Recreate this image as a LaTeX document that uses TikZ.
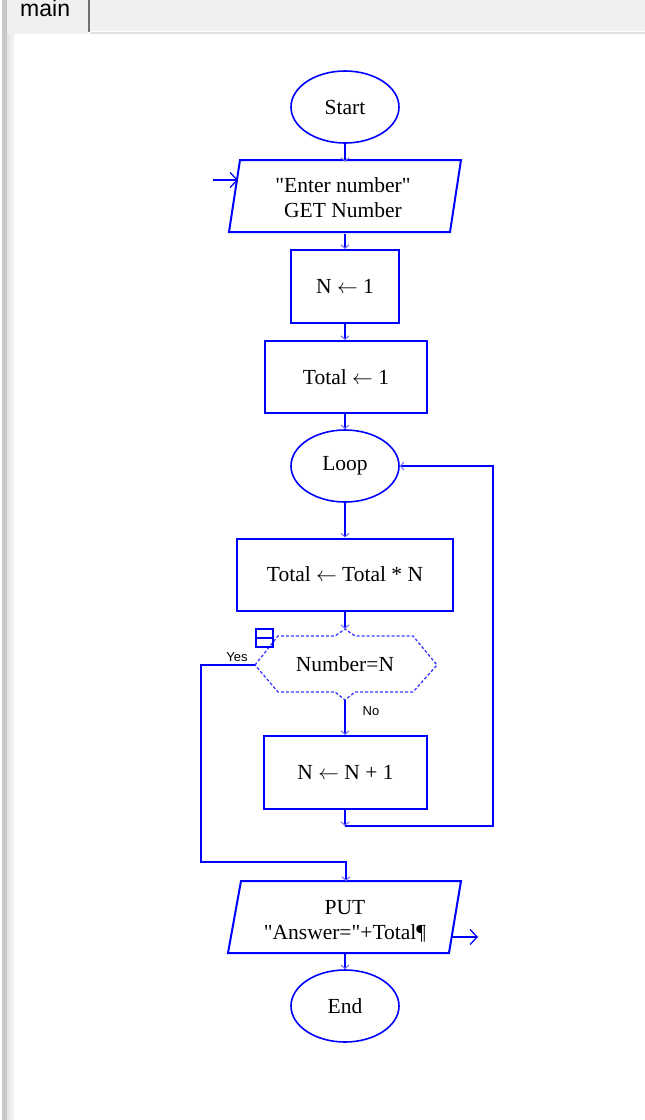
\documentclass[tikz,border=0pt]{standalone}
\usepackage{fontspec}
\setmainfont{Liberation Serif}[Ligatures=TeXOff]
\newfontfamily\uifont{Liberation Sans}
\usetikzlibrary{arrows.meta,shapes.geometric}
\definecolor{flowblue}{HTML}{0000FF}
\definecolor{tipblue}{HTML}{6A6AFF}
\definecolor{dashblue}{HTML}{3A3AFF}
\definecolor{barA}{HTML}{C8C8C8}
\definecolor{barB}{HTML}{E6E6E6}
\definecolor{panel}{HTML}{F0F0F0}
\definecolor{rule}{HTML}{E0E0E0}
\definecolor{tabedge}{HTML}{707070}
\begin{document}
\begin{tikzpicture}[x=1pt,y=-1pt,
  txt/.style={font=\fontsize{21.5}{25}\selectfont, align=center, inner sep=0},
  procbox/.style={txt, draw=flowblue, line width=2pt, rectangle},
  term/.style={txt, draw=flowblue, line width=1.6pt, ellipse,
    minimum width=108pt, minimum height=72pt},
  shapeline/.style={draw=flowblue, line width=2pt, line join=miter},
  flow/.style={draw=flowblue, line width=2pt,
    -{Straight Barb[length=3.5pt,width=8pt,line width=1pt,color=tipblue]}},
  ioflow/.style={draw=flowblue, line width=1.6pt,
    -{Straight Barb[length=7pt,width=15pt,line width=1.3pt]}},
  lbl/.style={font=\uifont\fontsize{13}{13}\selectfont, inner sep=0}]
\useasboundingbox (0,0) rectangle (645,1120);

% window frame around the canvas
\fill[white] (0,0) rectangle (645,1120);
\fill[barA] (2,0) rectangle (7,1120);
\fill[barB] (7,0) rectangle (10,1120);
\fill[panel] (10,0) rectangle (14,1120);
\fill[panel] (7,0) rectangle (645,31);
\fill[panel] (7,31) rectangle (88,34);
\fill[rule] (90,32) rectangle (645,34);
\fill[tabedge] (88,0) rectangle (90,32);
\node[font=\uifont\fontsize{23}{23}\selectfont, anchor=base west, inner sep=0] (tab) at (20,16) {main};

% terminals and process boxes
\node[term] (start) at (345,107) {Start};
\node[txt, minimum width=210pt, minimum height=72pt] (input) at (343,198) {"Enter number"\\GET Number};
\draw[shapeline] (229,232) -- (240,160) -- (461,160) -- (450,232) -- cycle;
\node[procbox, minimum width=108pt, minimum height=73pt] (n1) at (345,286.5) {N $\leftarrow$ 1};
\node[procbox, minimum width=162pt, minimum height=72pt] (tot1) at (346,377) {Total $\leftarrow$ 1};
\node[term] (loop) at (345,466) {Loop};
\node[procbox, minimum width=216pt, minimum height=72pt] (mult) at (345,574.5) {Total $\leftarrow$ Total * N};

% decision
\node[txt] (dec) at (345,664) {Number=N};
\draw[dashblue, line width=1.3pt, dash pattern=on 3pt off 2pt]
  (255,665) -- (278,636) -- (335,636) -- (345,629) -- (355,636) -- (413,636)
  -- (437,665) -- (413,692) -- (355,692) -- (345,700) -- (335,692) -- (278,692) -- cycle;
\coordinate (decN) at (345,629);
\coordinate (decS) at (345,700);
\coordinate (decW) at (255,665);
\draw[flowblue, line width=1.5pt] (256,629) rectangle (273,647) (256,638) -- (273,638);
\node[lbl] (yes) at (237,657) {Yes};
\node[lbl] (no) at (371,711) {No};

\node[procbox, minimum width=163pt, minimum height=73pt] (inc) at (345.5,772.5) {N $\leftarrow$ N + 1};

% output and end
\node[txt, minimum width=210pt, minimum height=72pt] (output) at (345,921) {PUT\\"Answer="+Total¶};
\draw[shapeline] (228,953) -- (241,881) -- (461,881) -- (449,953) -- cycle;
\node[term] (end) at (345,1006) {End};

% connectors
\coordinate (inStart) at (213,180);
\coordinate (inEdge) at (238,180);
\coordinate (outEdge) at (452,937);
\coordinate (outEnd) at (478,937);
\coordinate (backDrop) at (345,826);
\coordinate (backRight) at (493,826);
\coordinate (yesDown) at (201,862);
\coordinate (putTop) at (346,881);
\coordinate (putBottom) at (345,953);

\draw[ioflow] (inStart) -- (inEdge);
\draw[flow] (start.south) -- (input.north -| start.south);
\draw[flow] (input.south -| start.south) -- (n1.north);
\draw[flow] (n1.south) -- (tot1.north -| n1.south);
\draw[flow] (tot1.south -| n1.south) -- (loop.north);
\draw[flow] (loop.south) -- (mult.north);
\draw[flow] (mult.south) -- (decN);
\draw[flow] (decS) -- (inc.north -| decS);
\draw[flow] (inc.south -| decS) -- (backDrop);
\draw[flow] (backDrop) -- (backRight) |- (loop.east);
\draw[flow] (decW) -| (yesDown) -| (putTop);
\draw[flow] (putBottom) -- (end.north);
\draw[ioflow] (outEdge) -- (outEnd);
\end{tikzpicture}
\end{document}
